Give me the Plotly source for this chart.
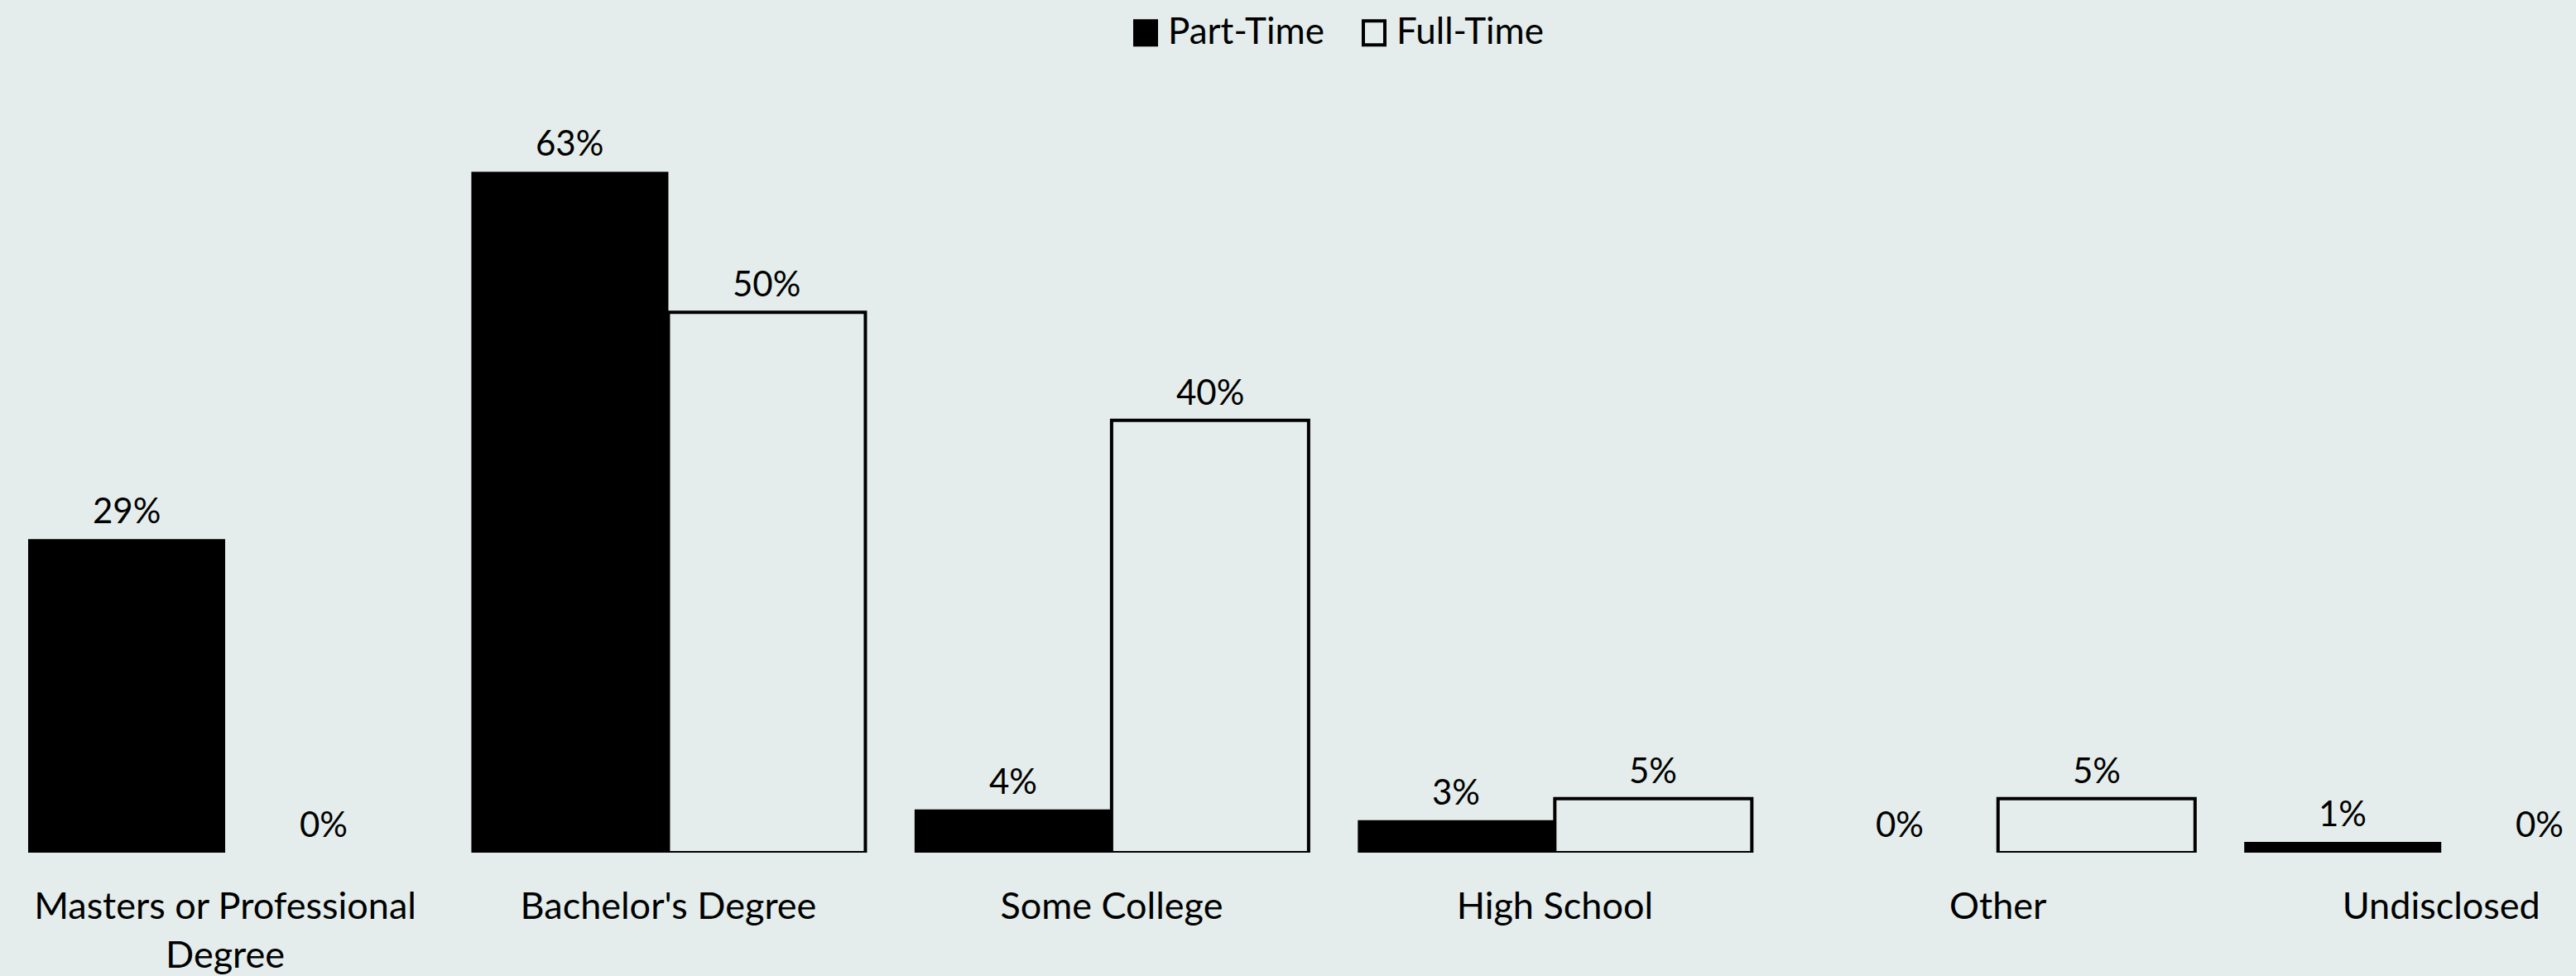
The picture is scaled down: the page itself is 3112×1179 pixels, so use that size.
import plotly.graph_objects as go

# Education level by employment type (percent of staff)
categories = [
    "Masters or Professional<br>Degree",
    "Bachelor's Degree",
    "Some College",
    "High School",
    "Other",
    "Undisclosed",
]
part_time = [29, 63, 4, 3, 0, 1]
full_time = [0, 50, 40, 5, 5, 0]

BG = "#E4EDEB"
FONT = "Lato"
W, H = 3112, 1179
M_TOP, M_BOT = 116, 147
PLOT_H = H - M_TOP - M_BOT
BAR_OFFSET = 119  # half of one bar slot, in pixels
LABEL_SIZE = 42
TICK_SIZE = 45


def px_x(x):
    return x / W


def px_y(y):
    return (H - M_BOT - y) / PLOT_H


fig = go.Figure()
fig.add_trace(go.Bar(
    name="Part-Time", x=categories, y=part_time,
    marker=dict(color="black", line=dict(width=0)),
    showlegend=False,
))
fig.add_trace(go.Bar(
    name="Full-Time", x=categories, y=full_time,
    marker=dict(
        color=BG,
        line=dict(color="black", width=[4 if v > 0 else 0 for v in full_time]),
    ),
    showlegend=False,
))

annots = []
# Value labels above each bar
for values, shift in ((part_time, -BAR_OFFSET), (full_time, BAR_OFFSET)):
    for cat, v in zip(categories, values):
        annots.append(dict(
            x=cat, y=v, xref="x", yref="y", text=f"{v}%", showarrow=False,
            xanchor="center", yanchor="bottom", xshift=shift, yshift=8,
            font=dict(family=FONT, size=LABEL_SIZE, color="black"),
        ))

# Legend keys drawn as shapes so they can match the label size
legend_items = [
    ("Part-Time", 1369, "black"),
    ("Full-Time", 1645, BG),
]
shapes = []
for label, x0, fill in legend_items:
    shapes.append(dict(
        type="rect", xref="paper", yref="paper",
        x0=px_x(x0 + 2), x1=px_x(x0 + 28), y0=px_y(54), y1=px_y(25),
        fillcolor=fill, line=dict(color="black", width=4),
    ))
    annots.append(dict(
        text=label, xref="paper", yref="paper", showarrow=False,
        x=px_x(x0 + 40), y=px_y(36), xanchor="left", yanchor="middle",
        font=dict(family=FONT, size=44, color="black"),
    ))

fig.update_layout(
    width=W, height=H,
    paper_bgcolor=BG, plot_bgcolor=BG,
    margin=dict(l=0, r=0, t=M_TOP, b=M_BOT),
    barmode="group", bargap=0.111, bargroupgap=0,
    shapes=shapes, annotations=annots,
    showlegend=False,
    font=dict(family=FONT, size=TICK_SIZE, color="black"),
)
fig.update_xaxes(
    type="category", range=[-0.508, 5.304],
    showgrid=False, zeroline=False, showline=False, ticks="",
    tickfont=dict(family=FONT, size=TICK_SIZE, color="black"),
    ticklabelstandoff=34,
)
fig.update_yaxes(
    range=[0, 70], visible=False, showgrid=False, zeroline=False,
)

fig.write_html("out.html")
